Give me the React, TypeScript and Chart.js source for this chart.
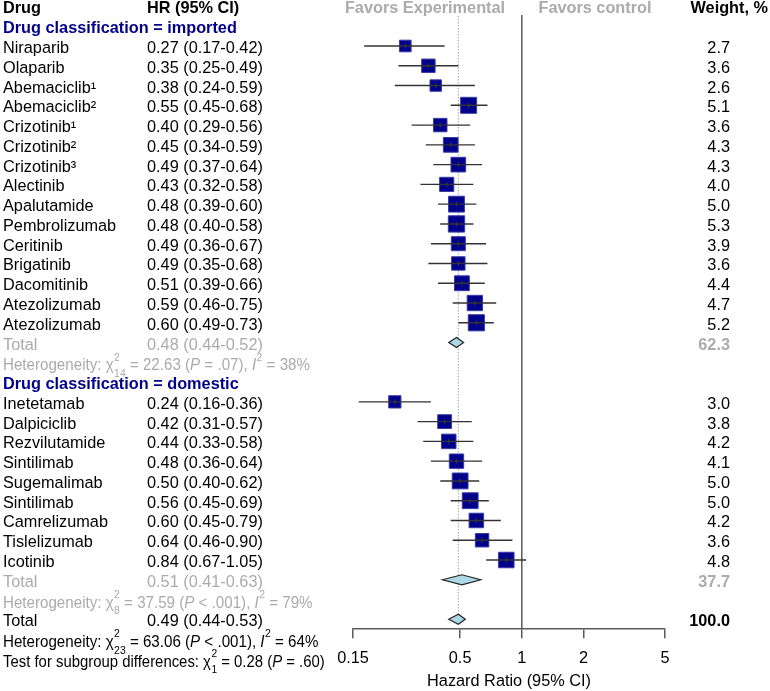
import React, { useEffect, useRef } from "react";
import { Chart, registerables } from "chart.js";

Chart.register(...registerables);

// ---------------- data ----------------
const importedDrugs = [
  "Niraparib", "Olaparib", "Abemaciclib¹", "Abemaciclib²", "Crizotinib¹", "Crizotinib²", "Crizotinib³",
  "Alectinib", "Apalutamide", "Pembrolizumab", "Ceritinib", "Brigatinib", "Dacomitinib", "Atezolizumab", "Atezolizumab",
];
const importedHR = [0.27, 0.35, 0.38, 0.55, 0.40, 0.45, 0.49, 0.43, 0.48, 0.48, 0.49, 0.49, 0.51, 0.59, 0.60];
const importedLow = [0.17, 0.25, 0.24, 0.45, 0.29, 0.34, 0.37, 0.32, 0.39, 0.40, 0.36, 0.35, 0.39, 0.46, 0.49];
const importedHigh = [0.42, 0.49, 0.59, 0.68, 0.56, 0.59, 0.64, 0.58, 0.60, 0.58, 0.67, 0.68, 0.66, 0.75, 0.73];
const importedWeight = [2.7, 3.6, 2.6, 5.1, 3.6, 4.3, 4.3, 4.0, 5.0, 5.3, 3.9, 3.6, 4.4, 4.7, 5.2];

const domesticDrugs = [
  "Inetetamab", "Dalpiciclib", "Rezvilutamide", "Sintilimab", "Sugemalimab", "Sintilimab", "Camrelizumab", "Tislelizumab", "Icotinib",
];
const domesticHR = [0.24, 0.42, 0.44, 0.48, 0.50, 0.56, 0.60, 0.64, 0.84];
const domesticLow = [0.16, 0.31, 0.33, 0.36, 0.40, 0.45, 0.45, 0.46, 0.67];
const domesticHigh = [0.36, 0.57, 0.58, 0.64, 0.62, 0.69, 0.79, 0.90, 1.05];
const domesticWeight = [3.0, 3.8, 4.2, 4.1, 5.0, 5.0, 4.2, 3.6, 4.8];

// pooled estimates: [HR, low, high]
const importedTotal = [0.48, 0.44, 0.52];
const domesticTotal = [0.51, 0.41, 0.63];
const overallTotal = [0.49, 0.44, 0.53];
const importedTotalWeight = "62.3";
const domesticTotalWeight = "37.7";
const overallTotalWeight = "100.0";

// heterogeneity: [df, chi2, P text, I2]
const importedHet = ["14", "22.63", " = .07", "38%"];
const domesticHet = ["8", "37.59", " < .001", "79%"];
const overallHet = ["23", "63.06", " < .001", "64%"];
const subgroupTest = ["1", "0.28", " = .60"];

const tickValues = [0.15, 0.5, 1, 2, 5];
const tickLabels = ["0.15", "0.5", "1", "2", "5"];

const headerDrug = "Drug";
const headerHR = "HR (95% CI)";
const headerFavExp = "Favors Experimental";
const headerFavCtl = "Favors control";
const headerWeight = "Weight, %";
const groupImported = "Drug classification = imported";
const groupDomestic = "Drug classification = domestic";
const axisTitle = "Hazard Ratio (95% CI)";

// ---------------- rows ----------------
type Row = {
  kind: "header" | "group" | "study" | "total" | "het" | "overall" | "overallHet" | "test";
  label?: string;
  hr?: number; lo?: number; hi?: number; w?: number; wText?: string;
  het?: string[];
};

const rows: Row[] = [];
rows.push({ kind: "header" });
rows.push({ kind: "group", label: groupImported });
importedDrugs.forEach((d, i) =>
  rows.push({ kind: "study", label: d, hr: importedHR[i], lo: importedLow[i], hi: importedHigh[i], w: importedWeight[i] })
);
rows.push({ kind: "total", label: "Total", hr: importedTotal[0], lo: importedTotal[1], hi: importedTotal[2], wText: importedTotalWeight });
rows.push({ kind: "het", het: importedHet });
rows.push({ kind: "group", label: groupDomestic });
domesticDrugs.forEach((d, i) =>
  rows.push({ kind: "study", label: d, hr: domesticHR[i], lo: domesticLow[i], hi: domesticHigh[i], w: domesticWeight[i] })
);
rows.push({ kind: "total", label: "Total", hr: domesticTotal[0], lo: domesticTotal[1], hi: domesticTotal[2], wText: domesticTotalWeight });
rows.push({ kind: "het", het: domesticHet });
rows.push({ kind: "overall", label: "Total", hr: overallTotal[0], lo: overallTotal[1], hi: overallTotal[2], wText: overallTotalWeight });
rows.push({ kind: "overallHet", het: overallHet });
rows.push({ kind: "test", het: subgroupTest });

const fmt = (v: number) => v.toFixed(2);

// ---------------- drawing helpers ----------------
const FAMILY = '"Liberation Sans", Arial, Helvetica, sans-serif';
const FS = 16.3;
const font = (weight = "normal", size = FS, style = "normal") => `${style} ${weight} ${size}px ${FAMILY}`;

const BLACK = "#000000";
const GREY = "#ababab";
const BLUE = "#00008B";

type Part = { t?: string; it?: boolean; sup?: string; sub?: string };

function drawParts(ctx: CanvasRenderingContext2D, x: number, yb: number, parts: Part[], color: string, sx: number) {
  ctx.save();
  ctx.translate(x, yb);
  ctx.scale(sx, 1);
  ctx.fillStyle = color;
  ctx.textAlign = "left";
  ctx.textBaseline = "alphabetic";
  let cx = 0;
  for (const p of parts) {
    if (p.t !== undefined) {
      ctx.font = font("normal", FS, p.it ? "italic" : "normal");
      ctx.fillText(p.t, cx, 0);
      cx += ctx.measureText(p.t).width;
    } else {
      ctx.font = font("normal", 11.2);
      let w = 0;
      if (p.sup) {
        ctx.fillText(p.sup, cx + 0.5, -9.8);
        w = Math.max(w, ctx.measureText(p.sup).width + 0.5);
      }
      if (p.sub) {
        ctx.fillText(p.sub, cx + 0.5, 6.5);
        w = Math.max(w, ctx.measureText(p.sub).width + 0.5);
      }
      cx += w;
    }
  }
  ctx.restore();
}

function hetParts(h: string[]): Part[] {
  return [
    { t: "Heterogeneity: χ" },
    { sup: "2", sub: h[0] },
    { t: ` = ${h[1]} (` },
    { t: "P", it: true },
    { t: `${h[2]}), ` },
    { t: "I", it: true },
    { sup: "2" },
    { t: ` = ${h[3]}` },
  ];
}

function testParts(h: string[]): Part[] {
  return [
    { t: "Test for subgroup differences: χ" },
    { sup: "2", sub: h[0] },
    { t: ` = ${h[1]} (` },
    { t: "P", it: true },
    { t: `${h[2]})` },
  ];
}

const COL_DRUG = 3;
const COL_HR = 147;
const COL_WEIGHT = 730;
const BASE = 7;

const forestPlugin = {
  id: "forest",
  beforeDatasetsDraw(chart: any) {
    const { ctx, scales, chartArea } = chart;
    const xs = scales.x, ys = scales.y;
    ctx.save();
    // no-effect line
    const x1 = xs.getPixelForValue(1);
    ctx.strokeStyle = "#5a5a5a";
    ctx.lineWidth = 1.5;
    ctx.beginPath();
    ctx.moveTo(x1, ys.getPixelForValue(0.43));
    ctx.lineTo(x1, chartArea.bottom);
    ctx.stroke();
    // overall estimate dotted line
    const xo = xs.getPixelForValue(overallTotal[0]);
    ctx.strokeStyle = "#777777";
    ctx.lineWidth = 1;
    ctx.setLineDash([1, 2]);
    ctx.beginPath();
    ctx.moveTo(xo, ys.getPixelForValue(0.5));
    ctx.lineTo(xo, ys.getPixelForValue(rows.length - 3));
    ctx.stroke();
    ctx.restore();
  },
  afterDatasetsDraw(chart: any) {
    const { ctx, scales } = chart;
    const xs = scales.x, ys = scales.y;
    ctx.save();
    rows.forEach((r, i) => {
      const yp = ys.getPixelForValue(i);
      if (r.kind === "study") {
        ctx.strokeStyle = "#333333";
        ctx.lineWidth = 1.4;
        ctx.beginPath();
        ctx.moveTo(xs.getPixelForValue(r.lo), yp);
        ctx.lineTo(xs.getPixelForValue(r.hi), yp);
        ctx.stroke();
        const xc = xs.getPixelForValue(r.hr);
        ctx.beginPath();
        ctx.moveTo(xc, yp - 2.5);
        ctx.lineTo(xc, yp + 2.5);
        ctx.stroke();
      } else if (r.kind === "total" || r.kind === "overall") {
        const xl = xs.getPixelForValue(r.lo), xr = xs.getPixelForValue(r.hi), xc = xs.getPixelForValue(r.hr);
        const hh = 5;
        ctx.beginPath();
        ctx.moveTo(xl, yp);
        ctx.lineTo(xc, yp - hh);
        ctx.lineTo(xr, yp);
        ctx.lineTo(xc, yp + hh);
        ctx.closePath();
        ctx.fillStyle = "#ADD8E6";
        ctx.fill();
        ctx.strokeStyle = "#222222";
        ctx.lineWidth = 1.2;
        ctx.stroke();
      }
    });
    ctx.restore();
  },
  afterDraw(chart: any) {
    const { ctx, scales } = chart;
    const ys = scales.y;
    ctx.save();
    ctx.textBaseline = "alphabetic";
    rows.forEach((r, i) => {
      const yb = ys.getPixelForValue(i) + BASE;
      const put = (s: string, x: number, f: string, c: string, align: CanvasTextAlign = "left") => {
        ctx.font = f;
        ctx.fillStyle = c;
        ctx.textAlign = align;
        ctx.fillText(s, x, yb);
      };
      switch (r.kind) {
        case "header":
          put(headerDrug, COL_DRUG, font("bold"), BLACK);
          put(headerHR, COL_HR, font("bold"), BLACK);
          put(headerFavExp, 425, font("bold"), GREY, "center");
          put(headerFavCtl, 595, font("bold"), GREY, "center");
          put(headerWeight, 768, font("bold"), BLACK, "right");
          break;
        case "group":
          put(r.label!, COL_DRUG, font("bold"), BLUE);
          break;
        case "study":
          put(r.label!, COL_DRUG, font(), BLACK);
          put(`${fmt(r.hr!)} (${fmt(r.lo!)}-${fmt(r.hi!)})`, COL_HR, font(), BLACK);
          put(r.w!.toFixed(1), COL_WEIGHT, font(), BLACK, "right");
          break;
        case "total":
          put(r.label!, COL_DRUG, font(), GREY);
          put(`${fmt(r.hr!)} (${fmt(r.lo!)}-${fmt(r.hi!)})`, COL_HR, font(), GREY);
          put(r.wText!, COL_WEIGHT, font("bold"), GREY, "right");
          break;
        case "overall":
          put(r.label!, COL_DRUG, font(), BLACK);
          put(`${fmt(r.hr!)} (${fmt(r.lo!)}-${fmt(r.hi!)})`, COL_HR, font(), BLACK);
          put(r.wText!, COL_WEIGHT, font("bold"), BLACK, "right");
          break;
        case "het":
          drawParts(ctx, COL_DRUG, yb + 1, hetParts(r.het!), GREY, 0.93);
          break;
        case "overallHet":
          drawParts(ctx, COL_DRUG, yb + 1, hetParts(r.het!), BLACK, 0.93);
          break;
        case "test":
          drawParts(ctx, COL_DRUG, yb + 1, testParts(r.het!), BLACK, 0.915);
          break;
      }
    });
    ctx.restore();
  },
};

export default function App() {
  const ref = useRef<HTMLCanvasElement | null>(null);
  useEffect(() => {
    if (!ref.current) return;
    const points: { x: number; y: number }[] = [];
    const radii: number[] = [];
    rows.forEach((r, i) => {
      if (r.kind === "study") {
        points.push({ x: r.hr!, y: i });
        const side = 7.08 * Math.sqrt(r.w!);
        radii.push(side / Math.SQRT2);
      }
    });
    const chart = new Chart(ref.current, {
      type: "scatter",
      data: {
        datasets: [
          {
            data: points,
            pointStyle: "rect",
            pointRadius: radii,
            pointHoverRadius: radii,
            backgroundColor: "#00008B",
            borderColor: "#3a3aa8",
            borderWidth: 1,
            clip: false,
          } as any,
        ],
      },
      options: {
        responsive: false,
        animation: false,
        events: [],
        layout: { autoPadding: false, padding: { left: 353, right: 105, top: 0, bottom: 0 } },
        plugins: { legend: { display: false }, tooltip: { enabled: false } },
        scales: {
          x: {
            type: "logarithmic",
            min: 0.15,
            max: 5,
            afterBuildTicks: (s: any) => {
              s.ticks = tickValues.map((v) => ({ value: v }));
            },
            afterFit: (s: any) => {
              s.height = 62.7;
            },
            ticks: {
              callback: (v: any) => {
                const k = tickValues.indexOf(Number(v));
                return k >= 0 ? tickLabels[k] : "";
              },
              font: { size: FS, family: FAMILY },
              color: BLACK,
              padding: 10,
              maxRotation: 0,
              autoSkip: false,
            },
            grid: { display: true, drawOnChartArea: false, drawTicks: true, tickLength: 10, color: "#5a5a5a", lineWidth: 1.5 },
            border: { display: true, color: "#5a5a5a", width: 1.5 },
            title: { display: true, text: axisTitle, font: { size: FS, family: FAMILY }, color: BLACK, padding: { top: 3.6, bottom: 0 } },
          },
          y: {
            type: "linear",
            display: false,
            min: -0.327,
            max: 31.454,
            reverse: true,
          },
        },
      } as any,
      plugins: [forestPlugin],
    });
    return () => chart.destroy();
  }, []);
  return (
    <div style={{ position: "fixed", left: 0, top: 0, width: 770, height: 691, background: "#fff" }}>
      <canvas ref={ref} width={770} height={691} style={{ display: "block" }} />
    </div>
  );
}
